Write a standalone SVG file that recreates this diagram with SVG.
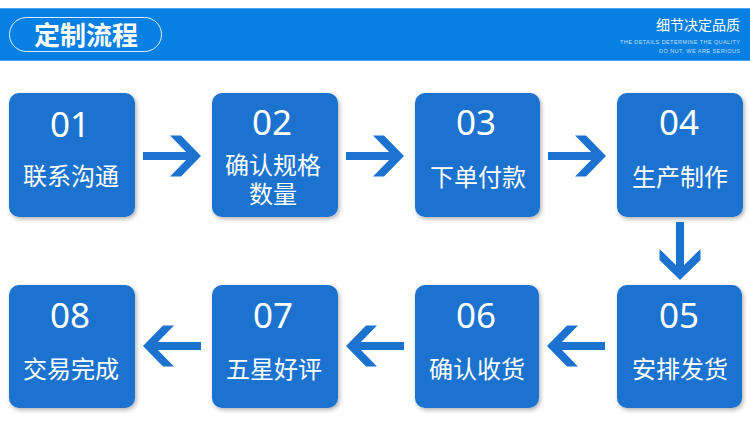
<svg xmlns="http://www.w3.org/2000/svg" xmlns:xlink="http://www.w3.org/1999/xlink" width="750" height="433" viewBox="0 0 750 433">
<style>
.box{fill:#1b73cf;filter:url(#sh)}
.num{font-family:"Noto Sans","Noto Sans CJK SC",sans-serif;font-size:35px;fill:#ffffff;text-anchor:middle}
.lbl{font-family:"Noto Sans CJK SC","Noto Sans",sans-serif;font-size:24px;fill:#ffffff;text-anchor:middle}
.arr{fill:#1b73cf}
</style>
<defs>
<filter id="sh" x="-10%" y="-10%" width="125%" height="125%">
<feDropShadow dx="1.5" dy="2" stdDeviation="2" flood-color="#000000" flood-opacity="0.3"/>
</filter>
<path id="arrow" d="M-58,-4 H-9 V4 H-58 Z M-31,-20.5 H-20 L0,0 L-20,20.5 H-31 L-11,0 Z"/>
</defs>
<rect x="0" y="0" width="750" height="433" fill="#ffffff"/>
<g id="header">
<rect x="0" y="8" width="750" height="53" fill="#0780e3"/>
<rect x="0" y="8" width="750" height="1" fill="#4aa3ee"/>
<rect x="0" y="60" width="750" height="1" fill="#4aa3ee"/>
<rect x="9.5" y="17.5" width="152" height="34" rx="17" fill="none" stroke="#ffffff" stroke-opacity="0.85" stroke-width="1"/>
<text x="86" y="45" font-family="Noto Sans CJK SC,sans-serif" font-weight="bold" font-size="26" fill="#ffffff" text-anchor="middle">定制流程</text>
<text x="740" y="30" font-family="Noto Sans CJK SC,sans-serif" font-size="14" fill="#ffffff" text-anchor="end">细节决定品质</text>
<text x="620" y="44" font-family="Liberation Sans,sans-serif" font-size="5.5" fill="#ffffff" fill-opacity="0.75" textLength="120" lengthAdjust="spacing">THE DETAILS DETERMINE THE QUALITY</text>
<text x="659" y="53" font-family="Liberation Sans,sans-serif" font-size="5.5" fill="#ffffff" fill-opacity="0.75" textLength="81" lengthAdjust="spacing">DO NUT, WE ARE SERIOUS</text>
</g>
<g id="connectors" class="arr">
<use xlink:href="#arrow" transform="translate(201,156)"/>
<use xlink:href="#arrow" transform="translate(404,156)"/>
<use xlink:href="#arrow" transform="translate(606,156)"/>
<use xlink:href="#arrow" transform="translate(680,280) rotate(90)"/>
<use xlink:href="#arrow" transform="translate(547,346) rotate(180)"/>
<use xlink:href="#arrow" transform="translate(346,346) rotate(180)"/>
<use xlink:href="#arrow" transform="translate(143,346) rotate(180)"/>
</g>
<g id="node01">
<rect class="box" x="9" y="93" width="126" height="124" rx="10"/>
<text class="num" x="70" y="137">01</text>
<text class="lbl" x="71" y="185">联系沟通</text>
</g>
<g id="node02">
<rect class="box" x="212" y="93" width="126" height="124" rx="10"/>
<text class="num" x="272" y="135">02</text>
<text class="lbl"><tspan x="273" y="174">确认规格</tspan><tspan x="273" y="203">数量</tspan></text>
</g>
<g id="node03">
<rect class="box" x="415" y="93" width="125" height="124" rx="10"/>
<text class="num" x="476" y="135">03</text>
<text class="lbl" x="478" y="186">下单付款</text>
</g>
<g id="node04">
<rect class="box" x="617" y="93" width="126" height="124" rx="10"/>
<text class="num" x="679" y="135">04</text>
<text class="lbl" x="680" y="186">生产制作</text>
</g>
<g id="node05">
<rect class="box" x="617" y="285" width="125" height="123" rx="10"/>
<text class="num" x="679" y="328">05</text>
<text class="lbl" x="680" y="378">安排发货</text>
</g>
<g id="node06">
<rect class="box" x="415" y="285" width="124" height="123" rx="10"/>
<text class="num" x="476" y="328">06</text>
<text class="lbl" x="477" y="378">确认收货</text>
</g>
<g id="node07">
<rect class="box" x="212" y="285" width="126" height="123" rx="10"/>
<text class="num" x="273" y="328">07</text>
<text class="lbl" x="274" y="378">五星好评</text>
</g>
<g id="node08">
<rect class="box" x="9" y="285" width="126" height="123" rx="10"/>
<text class="num" x="70" y="328">08</text>
<text class="lbl" x="71" y="378">交易完成</text>
</g>
</svg>
